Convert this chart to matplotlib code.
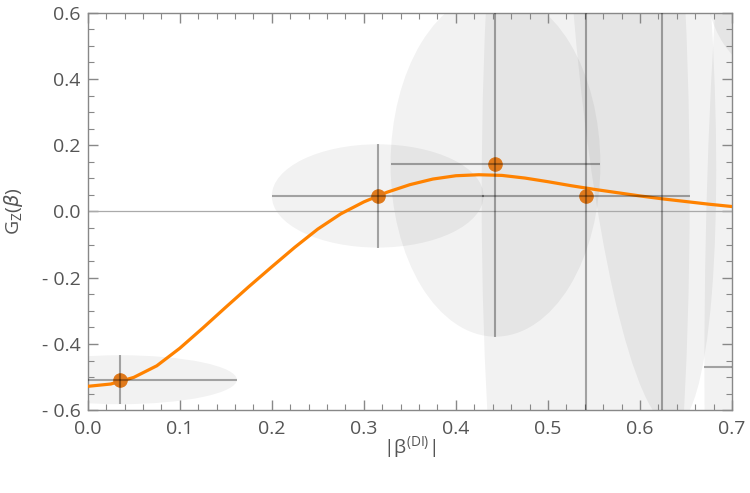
import matplotlib
matplotlib.use('Agg')
import matplotlib.pyplot as plt
from matplotlib.patches import Ellipse
from matplotlib.ticker import MultipleLocator, FixedLocator

plt.rcParams['font.family'] = ['Open Sans', 'DejaVu Sans']

# fitted curve
curve_x = [0.0, 0.025, 0.05, 0.075, 0.1, 0.125, 0.15, 0.175, 0.2, 0.225,
           0.25, 0.275, 0.3, 0.325, 0.35, 0.375, 0.4, 0.425, 0.45, 0.475,
           0.5, 0.525, 0.55, 0.575, 0.6, 0.625, 0.65, 0.675, 0.7]
curve_y = [-0.528, -0.521, -0.501, -0.466, -0.413, -0.352, -0.289, -0.227, -0.167, -0.108,
           -0.053, -0.007, 0.029, 0.058, 0.081, 0.098, 0.108, 0.111, 0.109, 0.101,
           0.090, 0.078, 0.067, 0.057, 0.047, 0.038, 0.030, 0.022, 0.015]

# data points with errors (the last two lie outside the shown range)
pt_x = [0.035, 0.315, 0.443, 0.541, 0.624, 0.74]
pt_y = [-0.508, 0.047, 0.142, 0.046, 0.95, -0.47]
pt_xerr = [0.127, 0.115, 0.114, 0.113, 0.07, 0.07]
pt_yerr = [0.074, 0.156, 0.52, 1.2, 1.8, 0.9]

# uncertainty ellipses: centre x, centre y, width, height, angle
ell_x = [0.035, 0.315, 0.443, 0.541, 0.600, 0.745, 0.74]
ell_y = [-0.508, 0.047, 0.142, 0.046, 0.70, -0.47, 0.72]
ell_w = [0.254, 0.230, 0.228, 0.226, 0.150, 0.150, 0.140]
ell_h = [0.148, 0.312, 1.04, 4.0, 2.7, 4.0, 0.60]
ell_a = [0, 0, 0, 0, 1.5, 0, 0]

xt = [0.0, 0.1, 0.2, 0.3, 0.4, 0.5, 0.6, 0.7]
yt = [-0.6, -0.4, -0.2, 0.0, 0.2, 0.4, 0.6]

fig = plt.figure(figsize=(7.5, 4.93), dpi=100)
ax = fig.add_axes([0.117, 0.168, 0.859, 0.806])

for cx, cy, w, h, a in zip(ell_x, ell_y, ell_w, ell_h, ell_a):
    ax.add_patch(Ellipse((cx, cy), w, h, angle=a, facecolor='black',
                         alpha=0.05, edgecolor='none', zorder=1))

ax.axhline(0, color='#aaaaaa', lw=0.9, zorder=2)

ax.plot(curve_x, curve_y, color='#ff8200', lw=2.3, zorder=3,
        solid_joinstyle='round')
ax.plot(pt_x, pt_y, 'o', color='#e07a1c', ms=9.5, zorder=4)
ax.errorbar(pt_x, pt_y, xerr=pt_xerr, yerr=pt_yerr, fmt='none',
            ecolor=(0, 0, 0, 0.33), elinewidth=1.5, capsize=0, zorder=5)

ax.set_xlim(0, 0.7)
ax.set_ylim(-0.6, 0.6)

ax.xaxis.set_major_locator(FixedLocator(xt))
ax.xaxis.set_minor_locator(MultipleLocator(0.02))
ax.yaxis.set_major_locator(FixedLocator(yt))
ax.yaxis.set_minor_locator(MultipleLocator(0.05))
ax.set_xticklabels(['%.1f' % v for v in xt])
ax.set_yticklabels([('- %.1f' % abs(v)) if v < 0 else '%.1f' % v for v in yt])

for s in ax.spines.values():
    s.set_color('#888888')
    s.set_linewidth(1.0)

ax.tick_params(which='both', direction='in', top=True, right=True,
               color='#888888', labelcolor='#555555', labelsize=14)
ax.tick_params(which='major', length=7, width=1)
ax.tick_params(which='minor', length=4, width=0.8)
ax.tick_params(axis='x', pad=7)
ax.tick_params(axis='y', pad=5)

ax.text(-0.116, 0.5, r'G$_\mathregular{Z}$($\beta$)', transform=ax.transAxes,
        rotation=90, ha='center', va='center', fontsize=14, color='#555555')
ax.text(0.5, -0.095, r'|β$^{\mathregular{(DI)}}$|', transform=ax.transAxes,
        ha='center', va='center', fontsize=14, color='#555555')

plt.savefig('out.png', dpi=100)
